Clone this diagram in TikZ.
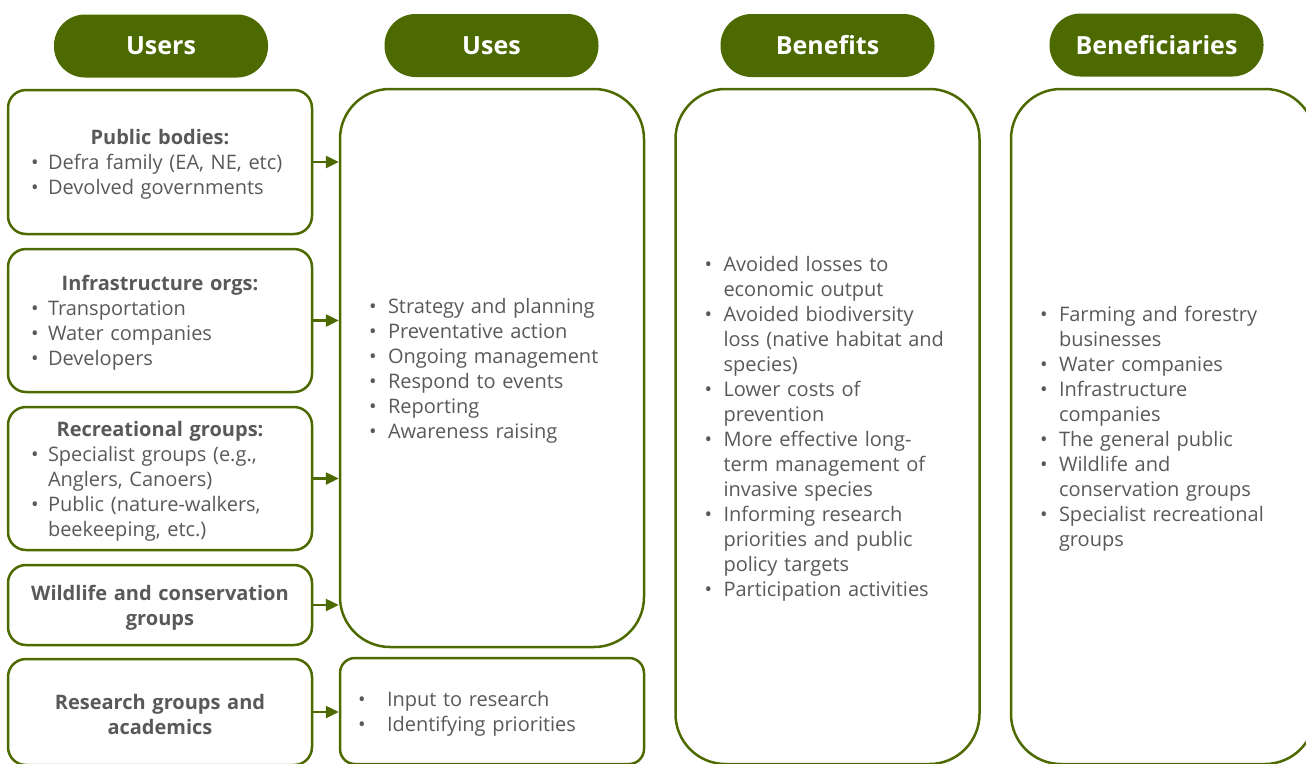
\documentclass[tikz,border=0pt]{standalone}
\usepackage{fontspec}
\setmainfont{Open Sans}
\usetikzlibrary{arrows.meta}

\definecolor{leaf}{RGB}{76,106,0}
\definecolor{ink}{RGB}{89,89,89}

\setlength\parindent{0pt}
\newlength\bulin
\newlength\bulgap
\newcommand{\ttl}[1]{{\centering\noindent\bfseries #1\par}}
\newcommand{\bul}[1]{\noindent\hangindent=\dimexpr\bulin+\bulgap\relax\hangafter=1\hspace*{\bulin}\makebox[\bulgap][l]{\textbullet}#1\par}

\begin{document}
\begin{tikzpicture}[x=1pt,y=-1pt,>={Triangle[length=13pt,width=12pt]},
  every node/.style={text=ink},
  head/.style={fill=leaf,text=white,font=\bfseries\fontsize{25}{30}\selectfont,minimum width=214pt,minimum height=63pt,rounded corners=31pt,inner sep=0pt},
  userbox/.style={draw=leaf,line width=2.5pt,rounded corners=18pt,minimum width=304pt,text width=280pt,inner xsep=12pt,align=left,font=\fontsize{20}{25}\selectfont,execute at begin node={\rule{0pt}{20pt}\setlength\bulin{11pt}\setlength\bulgap{17pt}}},
  colbox/.style={draw=leaf,line width=2.5pt,rounded corners=50pt,minimum width=304pt,text width=280pt,inner xsep=12pt,align=left,font=\fontsize{20}{25}\selectfont,execute at begin node={\rule{0pt}{20pt}\setlength\bulin{17pt}\setlength\bulgap{19pt}}}]

\useasboundingbox (0,0) rectangle (1306,763);
\clip (0,0) rectangle (1306,763);

% headers
\node[head] (husers)    at (161,46)    {Users};
\node[head] (huses)     at (491.5,45.5) {Uses};
\node[head] (hbenefits) at (827.5,45.5) {Benefits};
\node[head] (hbenef)    at (1156.5,45)  {Beneficiaries};

% users
\node[userbox,minimum height=144pt] (pub)   at (160,162)   {\ttl{Public bodies:}\bul{Defra family (EA, NE, etc)}\bul{Devolved governments}};
\node[userbox,minimum height=143pt] (infra) at (160,320.5) {\ttl{Infrastructure orgs:}\bul{Transportation}\bul{Water companies}\bul{Developers}};
\node[userbox,minimum height=143pt] (recr)  at (160,478.5) {\ttl{Recreational groups:}\bul{Specialist groups (e.g.,\newline Anglers, Canoers)}\bul{Public (nature-walkers,\newline beekeeping, etc.)}};
\node[userbox,minimum height=80pt]  (wild)  at (160,605)   {\ttl{Wildlife and conservation\\ groups}};
\node[userbox,minimum height=106pt] (res)   at (160,712)   {\ttl{Research groups and\\ academics}};

% uses
\node[colbox,minimum height=558pt] (uses) at (492,368) {\bul{Strategy and planning}\bul{Preventative action}\bul{Ongoing management}\bul{Respond to events}\bul{Reporting}\bul{Awareness raising}};
\node[colbox,minimum height=106pt,rounded corners=15pt,execute at begin node={\setlength\bulin{6pt}\setlength\bulgap{29pt}}] (research) at (492,711) {\bul{Input to research}\bul{Identifying priorities}};

% benefits
\node[colbox,minimum width=303pt,minimum height=675pt] (benefits) at (827.5,426.5) {\bul{Avoided losses to\newline economic output}\bul{Avoided biodiversity\newline loss (native habitat and\newline species)}\bul{Lower costs of\newline prevention}\bul{More effective long-\newline term management of\newline invasive species}\bul{Informing research\newline priorities and public\newline policy targets}\bul{Participation activities}};

% beneficiaries
\node[colbox,minimum width=303pt,minimum height=675pt] (benef) at (1163,426.5) {\bul{Farming and forestry\newline businesses}\bul{Water companies}\bul{Infrastructure\newline companies}\bul{The general public}\bul{Wildlife and\newline conservation groups}\bul{Specialist recreational\newline groups}};

\path[->,leaf,line width=2.5pt] (pub.east) edge (pub.east -| uses.west)
  (infra.east) edge (infra.east -| uses.west)
  (recr.east) edge (recr.east -| uses.west)
  (wild.east) edge (wild.east -| uses.west)
  (res.east) edge (res.east -| research.west);

\end{tikzpicture}
\end{document}
